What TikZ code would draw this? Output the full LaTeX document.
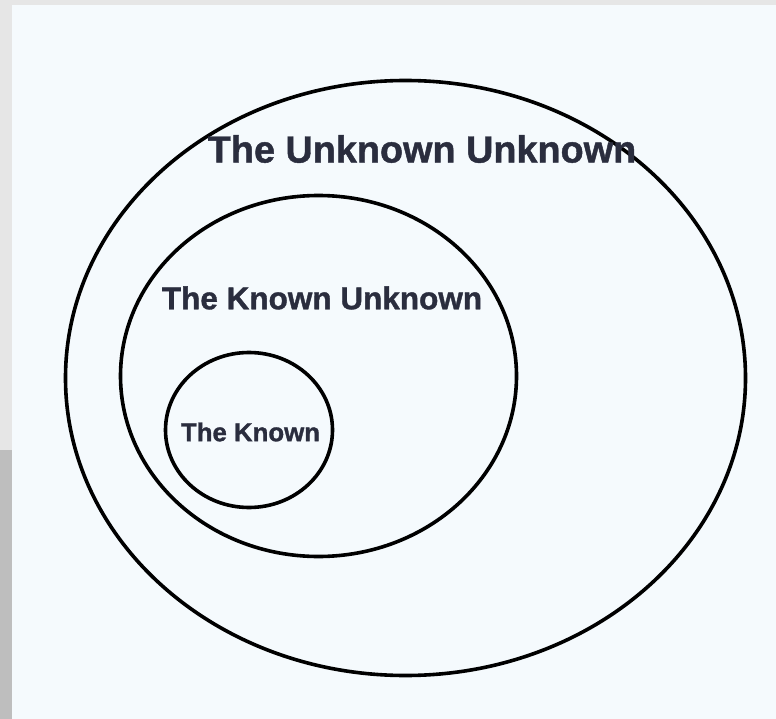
\documentclass[tikz,border=0pt]{standalone}
\usepackage{fontspec}
\setmainfont{Liberation Sans}[BoldFeatures={FakeBold=1.2}]
\usetikzlibrary{shapes.geometric}
\definecolor{bgcol}{RGB}{245, 250, 253}
\definecolor{framecol}{RGB}{230, 230, 230}
\definecolor{shadecol}{RGB}{190, 190, 190}
\definecolor{txtcol}{RGB}{42, 45, 62}
\tikzset{
  ring/.style={ellipse, draw=black, line width=3.6pt, inner sep=0pt},
  tag/.style={text=txtcol, font=\bfseries, inner sep=0pt},
}

\begin{document}
\begin{tikzpicture}[x=1pt, y=-1pt]
  \useasboundingbox (0,0) rectangle (776,719);
  \fill[framecol] (0,0) rectangle (776,719);
  \fill[shadecol] (0,450) rectangle (12,719);
  \fill[bgcol] (12,5) rectangle (776,719);

  % nested rings
  \node[ring, minimum width=680pt, minimum height=595pt] (unkunk) at (405.5,378) {};
  \node[ring, minimum width=396pt, minimum height=361pt] (knunk) at (318.5,376) {};
  \node[ring, minimum width=167pt, minimum height=155pt] (known) at (249,430) {};

  % labels
  \node[tag, font=\fontsize{37.8}{40}\selectfont\bfseries] (unkunklbl) at (422,149) {The Unknown Unknown};
  \node[tag, font=\fontsize{31.5}{34}\selectfont\bfseries] (knunklbl) at (322,298) {The Known Unknown};
  \node[tag, font=\fontsize{25.8}{28}\selectfont\bfseries] (knownlbl) at (250.5,432) {The Known};
\end{tikzpicture}
\end{document}
